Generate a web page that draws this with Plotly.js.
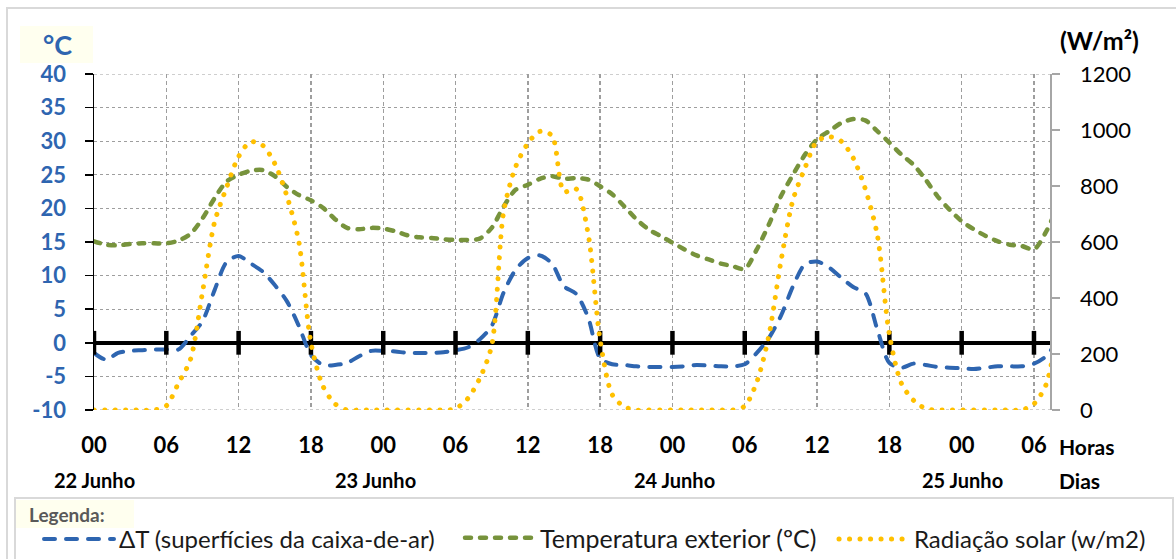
<!DOCTYPE html>
<html>
<head>
<meta charset="utf-8">
<script src="https://cdn.plot.ly/plotly-3.0.1.min.js"></script>
<style>
html,body{margin:0;padding:0;background:#fff;}
#chart{width:1176px;height:559px;}
.js-line{stroke-linecap:round;}
</style>
</head>
<body>
<div id="chart"></div>
<script>
// hours since 22 Junho 00:00
const hours = [0,1,2,3,4,5,6,7,8,9,10,11,12,13,14,15,16,17,18,19,20,21,22,23,24,25,26,27,28,29,
  30,31,32,33,34,35,36,37,38,39,40,41,42,43,44,45,46,47,48,49,50,51,52,53,54,55,56,57,58,59,
  60,61,62,63,64,65,66,67,68,69,70,71,72,73,74,75,76,77,78,79,80];

// ΔT (superfícies da caixa-de-ar) [°C]
const deltaT = [-1.5,-2.5,-1.5,-1.2,-1.1,-1.0,-1.0,-1.0,1.0,3.2,7.8,12.0,12.9,11.8,10.6,8.6,6.2,2.5,-1.8,-3.3,
  -3.3,-3.0,-2.0,-1.2,-1.2,-1.3,-1.5,-1.5,-1.5,-1.4,-1.1,-0.7,0.5,2.5,7.5,10.9,12.6,13.0,11.8,8.4,
  7.3,3.8,-2.3,-3.2,-3.3,-3.5,-3.6,-3.6,-3.6,-3.5,-3.3,-3.4,-3.5,-3.5,-3.2,-1.5,0.7,4.0,8.4,11.7,
  12.1,11.2,9.7,8.3,7.4,2.0,-3.0,-3.7,-3.1,-3.3,-3.6,-3.7,-3.8,-3.9,-3.7,-3.5,-3.5,-3.5,-3.1,-2.0,0.5];

// Temperatura exterior [°C]
const tempExt = [15.1,14.6,14.5,14.7,14.8,14.8,14.8,15.2,16.2,18.5,21.5,24.0,25.0,25.6,25.7,24.8,23.2,22.0,21.2,20.1,
  18.4,17.1,16.9,17.1,17.0,16.6,16.0,15.7,15.6,15.4,15.3,15.3,15.5,17.1,20.3,22.8,23.5,24.4,24.8,24.4,
  24.5,24.3,23.3,22.1,20.3,18.4,16.9,15.9,14.9,13.9,13.0,12.4,11.8,11.4,11.0,13.9,17.6,21.8,25.0,28.0,
  30.3,31.5,32.7,33.3,33.1,31.5,29.8,28.0,26.5,24.3,21.8,19.8,18.1,16.9,15.9,15.1,14.6,14.4,13.9,16.5,20.5];

// Radiação solar [W/m2]
const radSolar = [0,0,0,0,0,0,15,95,180,420,670,795,905,958,945,880,765,600,240,85,
  22,0,0,0,0,0,0,0,0,0,5,40,112,230,710,870,952,995,980,780,
  790,630,250,55,12,0,0,0,0,0,0,0,0,0,14,100,265,530,750,865,
  960,976,960,900,790,625,270,95,35,5,0,0,0,0,0,0,0,0,22,90,300];

const tickHours = [0,6,12,18,24,30,36,42,48,54,60,66,72,78];
const tickText = ["00","06","12","18","00","06","12","18","00","06","12","18","00","06"];
const tickZeros = [0,0,0,0,0,0,0,0,0,0,0,0,0,0];
const yTickVals = [-10,-5,0,5,10,15,20,25,30,35,40];
const yTickText = ["-10","-5","0","5","10","15","20","25","30","35","40"];
const y2TickVals = [0,200,400,600,800,1000,1200];
const y2TickText = ["0","200","400","600","800","1000","1200"];
const dayLabels = ["22 Junho","23 Junho","24 Junho","25 Junho"];
const dayPos = [0,23.4,48.2,72.1];

const BLUE = '#2E65B0';
const GREEN = '#77933C';
const YELLOW = '#FFC000';
const GRID = '#9E9E9E';
const FONT = 'Lato, "Open Sans", "DejaVu Sans", sans-serif';

// plot area: x 94..1050, y 74..410
const L = 94, R = 1050, T = 74, B = 410;
const px = v => (v - L) / (R - L);
const py = v => (B - v) / (B - T);

const traces = [
  {x: hours, y: deltaT, name: 'ΔT (superfícies da caixa-de-ar)', type: 'scatter', mode: 'lines', legend: 'legend',
   line: {color: BLUE, width: 4, dash: '11px,11px', shape: 'spline', smoothing: 0.8}},
  {x: hours, y: tempExt, name: 'Temperatura exterior (ºC)', type: 'scatter', mode: 'lines', legend: 'legend2',
   line: {color: GREEN, width: 4.5, dash: '6px,9px', shape: 'spline', smoothing: 0.8}},
  {x: hours, y: radSolar, name: 'Radiação solar (w/m2)', type: 'scatter', mode: 'lines', yaxis: 'y2', legend: 'legend3',
   line: {color: YELLOW, width: 5, dash: '0.1px,10.4px', shape: 'spline', smoothing: 0.8}},
  {x: tickHours, y: tickZeros, type: 'scatter', mode: 'markers', showlegend: false, hoverinfo: 'skip',
   marker: {symbol: 'line-ns', size: 17, line: {color: '#000', width: 4.5}}}
];

const annotations = [
  {text: '°C', xref: 'paper', yref: 'paper', x: px(57), y: py(44), xanchor: 'center', yanchor: 'middle', showarrow: false,
   font: {family: FONT, size: 27, color: BLUE, weight: 'bold'}},
  {text: '(W/m²)', xref: 'paper', yref: 'paper', x: px(1099), y: py(40), xanchor: 'center', yanchor: 'middle', showarrow: false,
   font: {family: FONT, size: 25, color: '#000', weight: 'bold'}},
  {text: 'Horas', xref: 'paper', yref: 'paper', x: px(1057), y: py(446), xanchor: 'left', yanchor: 'middle', showarrow: false,
   font: {family: FONT, size: 21, color: '#000', weight: 'bold'}},
  {text: 'Dias', xref: 'paper', yref: 'paper', x: px(1057), y: py(480), xanchor: 'left', yanchor: 'middle', showarrow: false,
   font: {family: FONT, size: 21, color: '#000', weight: 'bold'}},
  {text: 'Legenda:', xref: 'paper', yref: 'paper', x: px(27), y: py(514), xanchor: 'left', yanchor: 'middle', showarrow: false,
   font: {family: FONT, size: 19, color: '#595959', weight: 'bold'}}
];
dayLabels.forEach((t, i) => annotations.push({
  text: t, xref: 'x', yref: 'paper', x: dayPos[i], y: py(480), xanchor: 'center', yanchor: 'middle', showarrow: false,
  font: {family: FONT, size: 20, color: '#000', weight: 'bold'}
}));

const shapes = [
  {type: 'rect', xref: 'paper', yref: 'paper', x0: px(7), x1: px(1185), y0: py(8), y1: py(580),
   line: {color: '#D9D9D9', width: 2}, fillcolor: 'rgba(0,0,0,0)', layer: 'below'},
  {type: 'rect', xref: 'paper', yref: 'paper', x0: px(15), x1: px(1173), y0: py(498), y1: py(580),
   line: {color: '#D9D9D9', width: 2}, fillcolor: 'rgba(0,0,0,0)', layer: 'below'},
  {type: 'rect', xref: 'paper', yref: 'paper', x0: px(16), x1: px(134), y0: py(500), y1: py(528),
   line: {width: 0}, fillcolor: '#FFFFEF', layer: 'below'},
  {type: 'rect', xref: 'paper', yref: 'paper', x0: px(20), x1: px(93), y0: py(26), y1: py(63),
   line: {width: 0}, fillcolor: '#FFFFEF', layer: 'below'},
  // top and bottom dotted gridlines at the range ends
  {type: 'line', xref: 'paper', yref: 'y', x0: 0, x1: 1, y0: 40, y1: 40,
   line: {color: GRID, width: 1, dash: 'dot'}, layer: 'below'},
  {type: 'line', xref: 'paper', yref: 'y', x0: 0, x1: 1, y0: -10, y1: -10,
   line: {color: GRID, width: 1, dash: 'dot'}, layer: 'below'}
];

const legendBase = {orientation: 'h', xanchor: 'left', y: py(517), yanchor: 'top',
  itemwidth: 70, bgcolor: 'rgba(0,0,0,0)', borderwidth: 0,
  font: {family: FONT, size: 24, color: '#1a1a1a'}};

const layout = {
  width: 1176, height: 559,
  margin: {l: L, r: 1176 - R, t: T, b: 559 - B, pad: 0, autoexpand: false},
  paper_bgcolor: '#fff', plot_bgcolor: '#fff',
  font: {family: FONT, color: '#000'},
  xaxis: {range: [0, 79.33], tickvals: tickHours, ticktext: tickText, showline: false, zeroline: false,
    showgrid: true, gridcolor: GRID, gridwidth: 1.4, griddash: '4px,3px', ticks: '',
    ticklabelstandoff: 20, tickfont: {family: FONT, size: 22, color: '#000', weight: 'bold'}, fixedrange: true},
  yaxis: {range: [-10, 40], tickvals: yTickVals, ticktext: yTickText, showline: true, linecolor: '#000', linewidth: 1.5,
    ticks: 'outside', ticklen: 8, tickwidth: 1.5, tickcolor: '#000',
    showgrid: true, gridcolor: GRID, gridwidth: 1, griddash: 'dot',
    zeroline: true, zerolinecolor: '#000', zerolinewidth: 4.5,
    ticklabelstandoff: 14, tickfont: {family: FONT, size: 22, color: BLUE, weight: 'bold'}, fixedrange: true},
  yaxis2: {range: [0, 1200], tickvals: y2TickVals, ticktext: y2TickText, overlaying: 'y', side: 'right', showline: true,
    linecolor: '#A6A6A6', linewidth: 1.5, ticks: 'outside', ticklen: 8, tickwidth: 1.5, tickcolor: '#A6A6A6',
    showgrid: false, zeroline: false, ticklabelstandoff: 16,
    tickfont: {family: FONT, size: 22, color: '#000'}, fixedrange: true},
  showlegend: true,
  legend: Object.assign({}, legendBase, {x: px(39)}),
  legend2: Object.assign({}, legendBase, {x: px(460), y: py(515), font: {family: FONT, size: 25, color: '#1a1a1a'}}),
  legend3: Object.assign({}, legendBase, {x: px(834)}),
  annotations: annotations,
  shapes: shapes
};

Plotly.newPlot('chart', traces, layout, {displayModeBar: false, staticPlot: true});
</script>
</body>
</html>
